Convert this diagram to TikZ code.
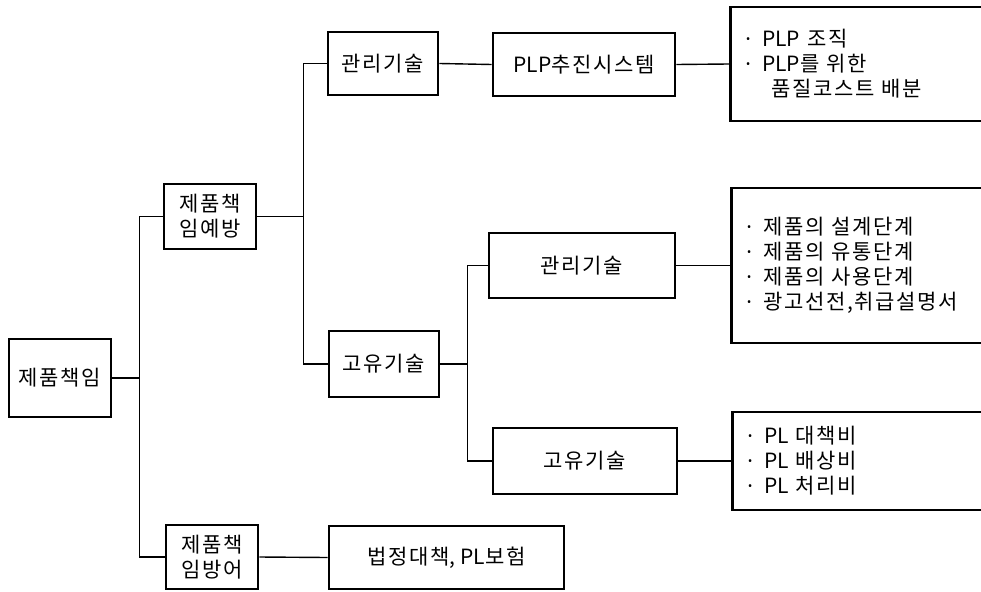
\documentclass[tikz,border=0pt]{standalone}
\usepackage{fontspec}
\setmainfont{Noto Sans CJK KR}[LetterSpace=8]
\newfontfamily\latf{Noto Sans CJK KR}
\newfontfamily\dotf{Noto Sans}
\newcommand\lt[1]{{\latf #1}}
\newcommand\bul{{\dotf ·}\hspace{11pt}}
\begin{document}
\begin{tikzpicture}[x=1pt,y=-1pt,
  box/.style={draw, line width=2.8pt, inner sep=0pt, align=center,
    font=\fontsize{21}{25}\selectfont},
  listbox/.style={draw, line width=2.8pt, inner xsep=11pt, inner ysep=0pt,
    anchor=west, align=left, text width=270pt, minimum width=300pt,
    font=\fontsize{21}{25}\selectfont},
  conn/.style={line width=1.4pt}]
\clip (0,0) rectangle (981,591);
\node[box, minimum width=102pt, minimum height=78pt] (root) at (60,378) {제품책임};
\node[box, minimum width=92pt, minimum height=65pt] (yebang) at (210,216.5) {제품책\\임예방};
\node[box, minimum width=92pt, minimum height=64pt] (bangeo) at (212,557) {제품책\\임방어};
\node[box, minimum width=110pt, minimum height=63pt] (gwanri1) at (383,63.5) {관리기술};
\node[box, minimum width=182pt, minimum height=63pt] (plp) at (584,64.5) {\lt{PLP}추진시스템};
\node[box, minimum width=110pt, minimum height=66pt] (goyu1) at (384,364) {고유기술};
\node[box, minimum width=186pt, minimum height=65pt] (gwanri2) at (582,265.5) {관리기술};
\node[box, minimum width=184pt, minimum height=66pt] (goyu2) at (585,461) {고유기술};
\node[box, minimum width=235pt, minimum height=63pt] (beop) at (446.5,557.5) {법정대책\lt{, PL}보험};
\node[listbox, minimum height=114pt] (r1) at (729,64) {\bul\lt{PLP} 조직\\\bul\lt{PLP}를 위한\\\hspace*{26pt}품질코스트 배분};
\node[listbox, minimum height=155pt] (r2) at (730,265.5) {\bul 제품의 설계단계\\\bul 제품의 유통단계\\\bul 제품의 사용단계\\\bul 광고선전,취급설명서};
\node[listbox, minimum height=98pt] (r3) at (731,461) {\bul\lt{PL} 대책비\\\bul\lt{PL} 배상비\\\bul\lt{PL} 처리비};
% level 1
\draw[conn] (root.east) -- ++(27,0) coordinate (j1);
\draw[conn] (yebang.west) -- (j1 |- yebang.west) -- (j1 |- bangeo.west) -- (bangeo.west);
% level 2
\draw[conn] (yebang.east) -- ++(46,0) coordinate (j2);
\draw[conn] (gwanri1.west) -- (j2 |- gwanri1.west) -- (j2 |- goyu1.west) -- (goyu1.west);
\draw[conn] (bangeo.east) -- (beop.west);
% level 3
\draw[conn] (goyu1.east) -- ++(27,0) coordinate (j3);
\draw[conn] (gwanri2.west) -- (j3 |- gwanri2.west) -- (j3 |- goyu2.west) -- (goyu2.west);
\draw[conn] (gwanri1.east) -- (plp.west);
% to lists
\draw[conn] (plp.east) -- (r1.west);
\draw[conn] (gwanri2.east) -- (r2.west);
\draw[conn] (goyu2.east) -- (r3.west);
\end{tikzpicture}
\end{document}
